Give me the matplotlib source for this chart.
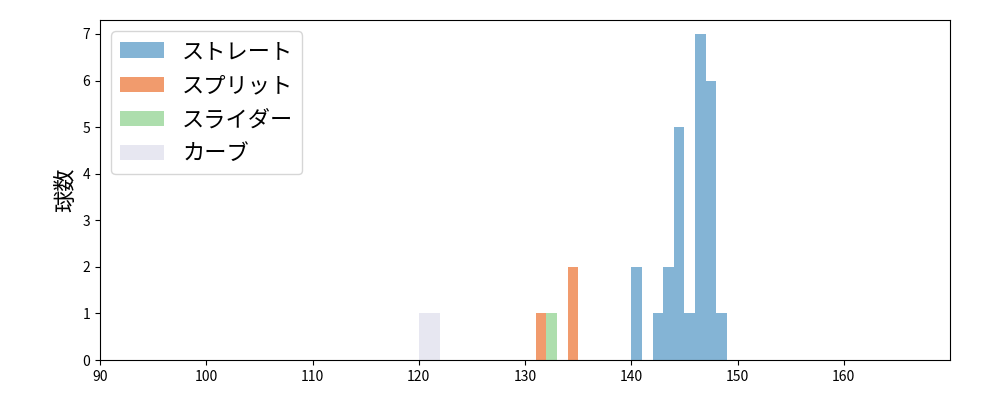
import numpy as np
import matplotlib
matplotlib.use("Agg")
import matplotlib.pyplot as plt

plt.rcParams['font.family'] = ['Noto Sans CJK JP', 'DejaVu Sans']

# Pitch speeds (km/h)
straight = [140.5]*2 + [142.5] + [143.5]*2 + [144.5]*5 + [145.5] + [146.5]*7 + [147.5]*6 + [148.5]
split = [131.5, 134.5, 134.5]
slider = [132.5]
curve = [121.0]

fig, ax = plt.subplots(figsize=(10, 4), dpi=100)
ax.hist(straight, bins=np.arange(140, 150, 1), color="#1f77b4", alpha=0.55, label="ストレート")
ax.hist(split, bins=np.arange(131, 136, 1), color="#e8590c", alpha=0.6, label="スプリット")
ax.hist(slider, bins=[132, 133], color="#5cbf5c", alpha=0.5, label="スライダー")
ax.hist(curve, bins=[120, 122], color="#d8d8e8", alpha=0.6, label="カーブ")

ax.set_xlim(90, 170)
ax.set_ylim(0, 7.3)
ax.set_xticks(range(90, 170, 10))
ax.set_ylabel("球数", fontsize=16)
ax.legend(loc="upper left", fontsize=16)
plt.subplots_adjust(left=0.1, right=0.95, top=0.95, bottom=0.1)
plt.savefig("out.png")
